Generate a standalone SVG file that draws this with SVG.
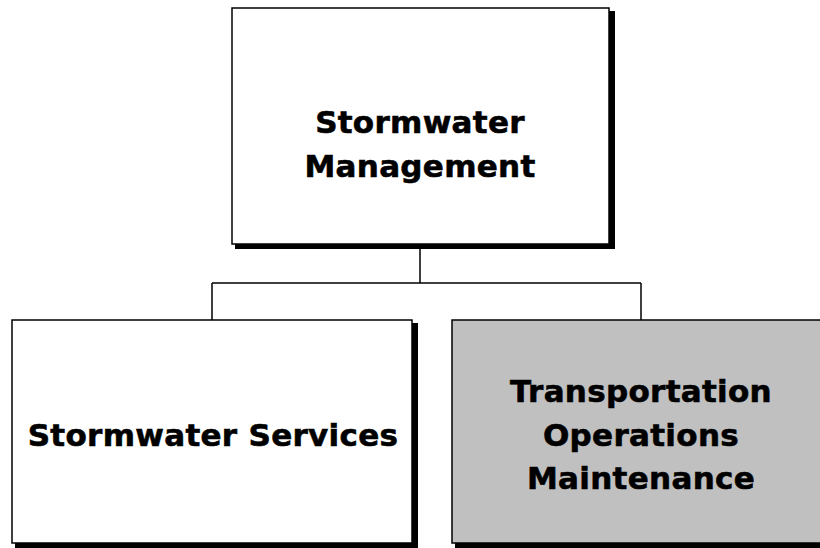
<svg xmlns="http://www.w3.org/2000/svg" width="820" height="548" viewBox="0 0 820 548">
<style>
.box{stroke:#000;stroke-width:1.5}
.shadow{fill:#000}
.lbl{font-family:"DejaVu Sans",Verdana,sans-serif;font-weight:bold;font-size:31px;letter-spacing:0.3px;fill:#000;stroke:#000;stroke-width:0.6px;text-anchor:middle}
.conn{stroke:#000;stroke-width:1.5;fill:none}
</style>
<rect width="820" height="548" fill="#fff"/>
<g id="connectors">
<path class="conn" d="M420,244 V283 M212,283 H641 M212,283 V320 M641,283 V320"/>
</g>
<g id="node-management">
<polygon class="shadow" points="609,11 615,11 615,249 235,249 235,244 609,244"/>
<rect class="box" x="232" y="8" width="377" height="236" fill="#fff"/>
<text class="lbl" x="420" y="133">Stormwater</text>
<text class="lbl" x="420" y="177">Management</text>
</g>
<g id="node-services">
<polygon class="shadow" points="412,323 418,323 418,549 15,549 15,543 412,543"/>
<rect class="box" x="12" y="320" width="400" height="223" fill="#fff"/>
<text class="lbl" x="213" y="446">Stormwater Services</text>
</g>
<g id="node-transportation">
<polygon class="shadow" points="830,323 836,323 836,549 455,549 455,543 830,543"/>
<rect class="box" x="452" y="320" width="378" height="223" fill="#c0c0c0"/>
<text class="lbl" x="641" y="402">Transportation</text>
<text class="lbl" x="641" y="446">Operations</text>
<text class="lbl" x="641" y="489">Maintenance</text>
</g>
</svg>
